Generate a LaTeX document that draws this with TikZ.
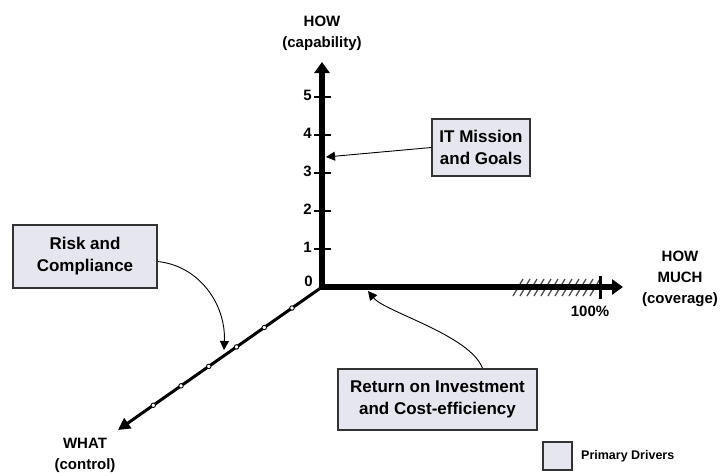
\documentclass[tikz,border=0pt]{standalone}
\usepackage{fontspec}
\setmainfont{Liberation Sans}
\usetikzlibrary{arrows.meta,calc}
\definecolor{drvfill}{HTML}{E6E6EF}
\definecolor{drvline}{HTML}{333333}
\begin{document}
\begin{tikzpicture}[x=1pt,y=-1pt,
  driver/.style={draw=drvline, line width=1.5pt, fill=drvfill, align=center, inner sep=0pt,
    font=\bfseries\fontsize{17}{22}\selectfont},
  axlabel/.style={align=center, font=\bfseries\fontsize{15}{21}\selectfont},
  numlabel/.style={anchor=east, inner sep=0pt, font=\bfseries\fontsize{15}{16}\selectfont},
  axisline/.style={line width=6pt, -{Triangle[width=15pt,length=11pt]}},
  pointer/.style={line width=0.9pt, -{Triangle[width=9pt,length=9pt]}},
  dotmark/.style={circle, draw, fill=white, inner sep=0pt, minimum size=4.5pt, line width=0.9pt}]
\useasboundingbox (0,0) rectangle (727,475);
% axis points
\coordinate (O) at (322,287);
\coordinate (Ytop) at (322,62);
\coordinate (Xend) at (623,287);
\coordinate (Wend) at (118,430);
% hatching near 100%
\foreach \x in {518,525,...,596}
  \draw[line width=1.3pt, black!70] (\x-5,296) -- (\x+5,279);
% axes
\draw[axisline] ([yshift=3pt]O) -- (Ytop);
\draw[axisline] ([xshift=-3pt]O) -- (Xend);
\draw[line width=3pt, -{Triangle[width=12pt,length=12pt]}] (O) -- (Wend);
% ticks on vertical axis
\foreach \k in {1,...,5}{
  \draw[line width=2pt] (314,287-38*\k) -- (331,287-38*\k);
  \node[numlabel] (n\k) at (312,285-38*\k) {\k};
}
\node[numlabel] (n0) at (313,281) {0};
% 100% tick
\draw[line width=3pt] (600,276) -- (600,299);
\node[font=\bfseries\fontsize{15}{16}\selectfont] (pct) at (590,311) {100\%};
% marks on diagonal axis
\foreach \i/\t in {1/0.147,2/0.283,3/0.419,4/0.555,5/0.691,6/0.827}
  \node[dotmark] (m\i) at ($(O)!\t!(Wend)$) {};
% axis labels
\node[axlabel] (lhow) at (322,33) {HOW\\(capability)};
\node[axlabel] (lmuch) at (680,279) {HOW\\MUCH\\(coverage)};
\node[axlabel] (lwhat) at (85,455) {WHAT\\(control)};
% driver boxes
\node[driver, minimum width=144pt, minimum height=63pt] (risk) at (85,256.5) {Risk and\\Compliance};
\node[driver, minimum width=98pt, minimum height=57pt] (it) at (481,147.5) {IT Mission\\and Goals};
\node[driver, minimum width=199pt, minimum height=61pt] (roi) at (437.5,399.5) {Return on Investment\\and Cost-efficiency};
% pointer targets
\coordinate (itp) at (326,157);
\coordinate (rcp) at (224,350);
\coordinate (roip) at (368,291);
\draw[pointer] (it.west) -- (itp);
\draw[pointer] ([yshift=-5pt]risk.east) .. controls (200,266) and (226,305) .. (rcp);
\draw[pointer] ([xshift=45pt]roi.north) .. controls (470,335) and (385,312) .. (roip);
% legend
\node[draw=drvline, line width=1.5pt, fill=drvfill, minimum width=29pt, minimum height=28pt, inner sep=0pt] (leg) at (557.5,456) {};
\node[anchor=west, inner sep=0pt, font=\bfseries\fontsize{12.5}{14}\selectfont] (legt) at (581,456) {Primary Drivers};
\end{tikzpicture}
\end{document}
